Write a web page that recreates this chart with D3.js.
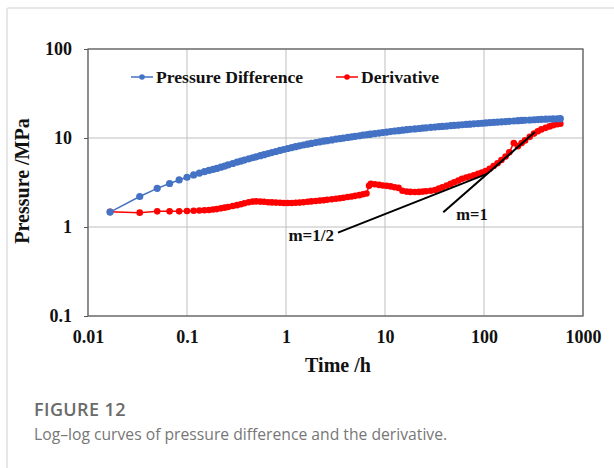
<!DOCTYPE html>
<html><head><meta charset="utf-8">
<script src="https://cdn.jsdelivr.net/npm/d3@7"></script>
<style>body{margin:0;background:#fff}svg{display:block}</style>
</head><body><svg id="c" width="614" height="468"></svg>
<script>
// ---- data ----
const timeH = [
 0.0167,0.0333,0.05,0.0667,0.0833,0.1,0.1167,0.1333,0.15,0.1667,
 0.1833,0.2,0.22,0.24,0.26,0.29,0.32,0.35,0.38,0.42,
 0.46,0.5,0.55,0.6,0.66,0.72,0.79,0.87,0.95,1.04,
 1.14,1.25,1.37,1.5,1.65,1.8,2.0,2.2,2.4,2.6,
 2.9,3.2,3.5,3.8,4.2,4.6,5.0,5.5,6.0,6.5,
 6.9,7.2,7.9,8.7,9.5,10.4,11.4,12.5,13.7,15,
 16.5,18,20,22,24,26,29,32,35,38,
 42,46,50,55,60,66,72,79,87,95,
 104,114,125,137,150,165,180,200,220,240,
 260,290,320,350,380,420,460,500,550,590];
const pressureDiff = [
 1.47,2.2,2.72,3.08,3.38,3.62,3.85,4.02,4.18,4.32,
 4.44,4.55,4.7,4.84,4.98,5.17,5.35,5.5,5.65,5.83,
 6.0,6.15,6.33,6.5,6.68,6.86,7.05,7.25,7.43,7.62,
 7.8,7.98,8.16,8.34,8.52,8.68,8.88,9.05,9.2,9.34,
 9.52,9.7,9.85,9.98,10.15,10.3,10.45,10.6,10.75,10.88,
 10.98,11.05,11.2,11.35,11.5,11.65,11.8,11.95,12.1,12.25,
 12.4,12.52,12.65,12.78,12.9,13.0,13.15,13.28,13.4,13.5,
 13.62,13.74,13.85,13.97,14.08,14.2,14.3,14.42,14.54,14.65,
 14.76,14.87,14.98,15.09,15.2,15.31,15.41,15.53,15.64,15.74,
 15.83,15.94,16.04,16.12,16.2,16.28,16.35,16.4,16.45,16.5];
const derivative = [
 1.48,1.45,1.5,1.5,1.5,1.51,1.52,1.53,1.54,1.55,
 1.57,1.59,1.62,1.65,1.68,1.72,1.76,1.8,1.85,1.9,
 1.93,1.94,1.93,1.92,1.9,1.89,1.88,1.87,1.86,1.86,
 1.86,1.87,1.88,1.9,1.92,1.94,1.96,1.98,2.0,2.02,
 2.05,2.08,2.1,2.13,2.17,2.2,2.24,2.28,2.33,2.38,
 2.9,3.05,3.02,2.97,2.93,2.9,2.86,2.8,2.75,2.55,
 2.5,2.48,2.47,2.48,2.5,2.52,2.55,2.6,2.7,2.8,
 2.92,3.05,3.18,3.32,3.48,3.6,3.7,3.82,3.95,4.08,
 4.25,4.5,4.85,5.2,5.65,6.2,6.9,8.8,8.1,8.8,
 9.4,10.3,11.2,11.9,12.5,13.0,13.5,13.9,14.3,14.5];
const slopeHalfT = [3.35, 107];
const slopeHalfV = [0.863, 3.96];
const slopeOneT = [38.8, 327];
const slopeOneV = [1.46, 11.7];
const xTicks = [0.01, 0.1, 1, 10, 100, 1000];
const xTickLabels = ["0.01", "0.1", "1", "10", "100", "1000"];
const yTicks = [0.1, 1, 10, 100];
const yTickLabels = ["0.1", "1", "10", "100"];
const seriesNames = ["Pressure Difference", "Derivative"];

// ---- drawing ----
const svg = d3.select("#c");
const L = 88, R = 583, T = 49, B = 316;
const serif = "'Liberation Serif','Times New Roman',serif";
const blue = "#4472C4", red = "#FF0000";

svg.append("rect").attr("width",614).attr("height",468).attr("fill","#fff");
// card border
svg.append("path").attr("d","M7,468 V9 Q7,8 8,8 H614").attr("fill","none").attr("stroke","#cfcfcf").attr("stroke-width",1);

const x = d3.scaleLog().domain([0.01,1000]).range([L,R]);
const y = d3.scaleLog().domain([0.1,100]).range([B,T]);

// gridlines
svg.append("g").selectAll("line").data(yTicks).join("line")
  .attr("x1",L).attr("x2",R).attr("y1",d=>y(d)).attr("y2",d=>y(d))
  .attr("stroke","#bfbfbf").attr("stroke-width",1);
svg.append("g").selectAll("line").data(xTicks).join("line")
  .attr("y1",T).attr("y2",B).attr("x1",d=>x(d)).attr("x2",d=>x(d))
  .attr("stroke","#bfbfbf").attr("stroke-width",1);

// axes
const ax = svg.append("g").attr("transform",`translate(0,${B})`)
  .call(d3.axisBottom(x).tickValues(xTicks).tickFormat((d,i)=>xTickLabels[i]).tickSize(0).tickPadding(14));
const ay = svg.append("g").attr("transform",`translate(${L},0)`)
  .call(d3.axisLeft(y).tickValues(yTicks).tickFormat((d,i)=>yTickLabels[i]).tickSize(4).tickPadding(12));
[ax,ay].forEach(g=>{
  g.select(".domain").remove();
  g.selectAll("text").attr("font-family",serif).attr("font-weight","bold").attr("font-size","18px").attr("fill","#111");
  g.selectAll("line").attr("stroke","#595959");
});
// frame
svg.append("rect").attr("x",L).attr("y",T).attr("width",R-L).attr("height",B-T)
  .attr("fill","none").attr("stroke","#595959").attr("stroke-width",1.2);

// axis titles
svg.append("text").attr("x",338).attr("y",372).attr("text-anchor","middle")
  .attr("font-family",serif).attr("font-weight","bold").attr("font-size","20px").attr("fill","#111").text("Time /h");
svg.append("text").attr("transform","translate(29,181) rotate(-90)").attr("text-anchor","middle")
  .attr("font-family",serif).attr("font-weight","bold").attr("font-size","20px").attr("fill","#111").text("Pressure /MPa");

const rows = timeH.map((t,i)=>({t, p:pressureDiff[i], d:derivative[i]}));
const plot = svg.append("g");
const lineP = d3.line().x(r=>x(r.t)).y(r=>y(r.p));
const lineD = d3.line().x(r=>x(r.t)).y(r=>y(r.d));

plot.append("path").datum(rows).attr("d",lineD).attr("fill","none").attr("stroke",red).attr("stroke-width",1.5);
plot.append("g").selectAll("circle").data(rows).join("circle")
  .attr("cx",r=>x(r.t)).attr("cy",r=>y(r.d)).attr("r",3.3).attr("fill",red);
plot.append("path").datum(rows).attr("d",lineP).attr("fill","none").attr("stroke",blue).attr("stroke-width",1.5);
plot.append("g").selectAll("circle").data(rows).join("circle")
  .attr("cx",r=>x(r.t)).attr("cy",r=>y(r.p)).attr("r",3.6).attr("fill",blue);

// slope lines
const slopes = [
  {t:slopeHalfT, v:slopeHalfV},
  {t:slopeOneT, v:slopeOneV}
];
slopes.forEach(s=>{
  svg.append("line").attr("x1",x(s.t[0])).attr("y1",y(s.v[0])).attr("x2",x(s.t[1])).attr("y2",y(s.v[1]))
    .attr("stroke","#000").attr("stroke-width",2);
});
svg.append("text").attr("x",x(slopeHalfT[0])-4).attr("y",y(slopeHalfV[0])+8).attr("text-anchor","end")
  .attr("font-family",serif).attr("font-weight","bold").attr("font-size","17px").attr("fill","#111").text("m=1/2");
svg.append("text").attr("x",x(slopeOneT[0])+13).attr("y",y(slopeOneV[0])+8).attr("text-anchor","start")
  .attr("font-family",serif).attr("font-weight","bold").attr("font-size","16.5px").attr("fill","#111").text("m=1");

// legend
const leg = [{name:seriesNames[0],c:blue,x:131},{name:seriesNames[1],c:red,x:336}];
leg.forEach(l=>{
  const g = svg.append("g");
  g.append("line").attr("x1",l.x).attr("x2",l.x+22).attr("y1",77).attr("y2",77).attr("stroke",l.c).attr("stroke-width",1.5);
  g.append("circle").attr("cx",l.x+11).attr("cy",77).attr("r",2.8).attr("fill",l.c);
  g.append("text").attr("x",l.x+25).attr("y",83).attr("font-family",serif).attr("font-weight","bold")
    .attr("font-size","17.6px").attr("fill","#111").text(l.name);
});

// caption
svg.append("text").attr("x",34).attr("y",416).attr("font-family","'Open Sans',sans-serif").attr("font-weight",600)
  .attr("font-size","18px").attr("letter-spacing","0.4px").attr("fill","#6a6a6a").text("FIGURE 12");
svg.append("text").attr("x",34).attr("y",440).attr("font-family","'Open Sans',sans-serif").attr("font-weight",400)
  .attr("font-size","15.7px").attr("fill","#777").text("Log\u2013log curves of pressure difference and the derivative.");
</script></body></html>
